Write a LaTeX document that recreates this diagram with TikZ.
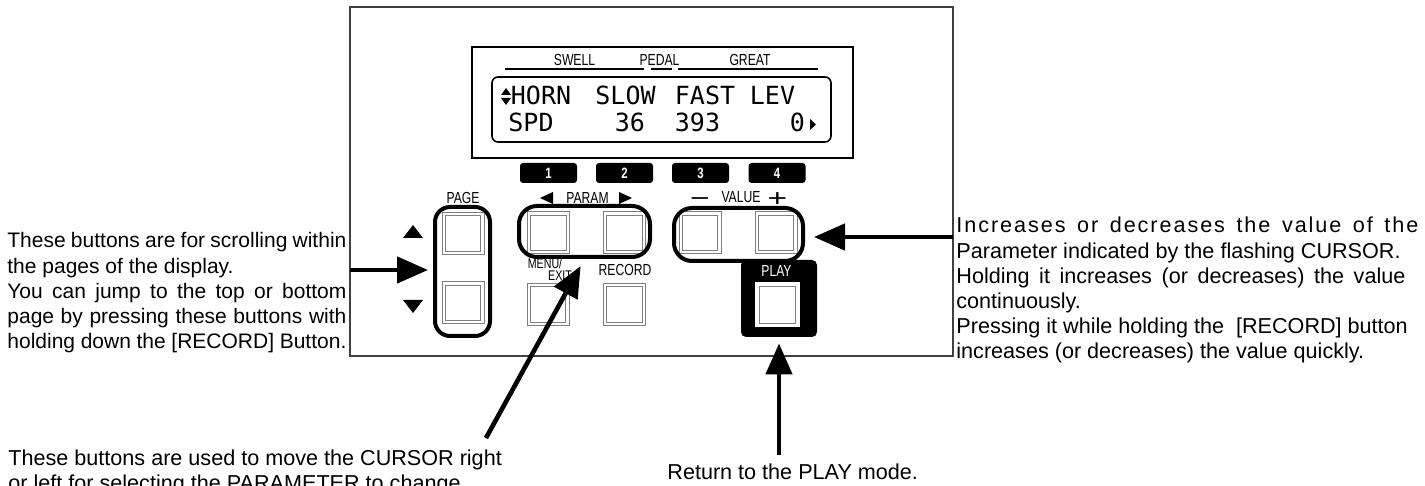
\documentclass[tikz,border=0pt]{standalone}
\usepackage{fontspec}
\setmainfont{Liberation Sans}
\newfontfamily\panelfont[FakeStretch=0.76]{Liberation Sans}
\newfontfamily\signfont[FakeStretch=1.4]{Liberation Sans}
\newfontfamily\lcdfont{DejaVu Sans Mono}
\usetikzlibrary{arrows.meta}
\definecolor{framegray}{HTML}{404040}
\definecolor{btngray}{HTML}{7F7F7F}

\begin{document}
\begin{tikzpicture}[x=0.5pt, y=-0.5pt,
  panelbox/.style = {draw=framegray, line width=1pt, inner sep=0pt},
  bezel/.style    = {draw, line width=0.6pt, inner sep=0pt},
  lcdbox/.style   = {draw, line width=0.8pt, rounded corners=3pt, inner sep=0pt},
  lcdtxt/.style   = {font=\lcdfont\fontsize{12.5}{12.5}\selectfont, anchor=base west, inner sep=0pt},
  lbl/.style      = {font=\panelfont\fontsize{8}{8}\selectfont, inner sep=0pt},
  small/.style    = {font=\panelfont\fontsize{7}{7}\selectfont, inner sep=0pt},
  sign/.style     = {font=\signfont\fontsize{12}{12}\selectfont, anchor=base, inner sep=0pt},
  bar/.style      = {line width=1.25pt},
  numkey/.style   = {fill=black, rounded corners=1.5pt, minimum width=28.5pt, minimum height=10pt, inner sep=0pt, text=white, font=\panelfont\bfseries\fontsize{7.5}{7.5}\selectfont},
  btn/.style      = {draw=btngray, line width=0.5pt, minimum size=21pt, inner sep=0pt,
                     path picture={\draw[line width=0.5pt] ([shift={(1.6pt,-1.6pt)}]path picture bounding box.north west) rectangle ([shift={(-1.6pt,1.6pt)}]path picture bounding box.south east);}},
  pill/.style     = {draw, line width=2pt, inner sep=0pt},
  playbox/.style  = {fill=black, rounded corners=2.5pt, minimum width=38pt, minimum height=38.5pt, inner sep=0pt},
  playbtn/.style  = {fill=white, minimum size=22.5pt, inner sep=0pt,
                     path picture={\draw[btngray, line width=0.45pt] ([shift={(2.2pt,-2.2pt)}]path picture bounding box.north west) rectangle ([shift={(-2.2pt,2.2pt)}]path picture bounding box.south east);}},
  txt/.style      = {font=\fontsize{10.8}{12.5}\selectfont, anchor=base west, inner sep=0pt},
  ltxt/.style     = {font=\fontsize{10.5}{12.5}\selectfont, anchor=base west, inner sep=0pt},
  arr/.style      = {-{Triangle[length=15.5pt,width=13pt]}, line width=2.3pt},
]
\useasboundingbox (0,0) rectangle (1425,486);

% panel and display
\node[panelbox, minimum width=301.75pt, minimum height=174.5pt] (panel) at (651.25,181.5) {};
\node[bezel, minimum width=190.5pt, minimum height=55.5pt] (bezel) at (662.5,102.5) {};
\node[lcdbox, minimum width=169.5pt, minimum height=32.5pt] (lcd) at (661.5,109.5) {};
\node[lbl] (swell) at (574.5,59.5) {SWELL};
\node[lbl] (pedal) at (659.5,59.5) {PEDAL};
\node[lbl] (great) at (750,59.5) {GREAT};
\draw[bar] (505,69) -- (644,69);
\draw[bar] (651,69) -- (672,69);
\draw[bar] (678,69) -- (818,69);

% display text
\fill (501,95) -- (511,95) -- (506,88) -- cycle;
\fill (501,98) -- (511,98) -- (506,105) -- cycle;
\node[lcdtxt] (horn) at (510.5,105) {HORN};
\node[lcdtxt] (slow) at (595,105) {SLOW};
\node[lcdtxt] (fast) at (674.5,105) {FAST};
\node[lcdtxt] (lev) at (749.5,105) {LEV};
\node[lcdtxt] (spd) at (508,132) {SPD};
\node[lcdtxt] (slowval) at (614.5,132) {36};
\node[lcdtxt] (fastval) at (674.5,132) {393};
\node[lcdtxt] (levval) at (789.5,132) {0};
\fill (810,119) -- (810,130) -- (816,124.5) -- cycle;

% number keys
\foreach \k/\x in {1/548.5, 2/624.5, 3/700.5, 4/777}
  \node[numkey] (key\k) at (\x,173) {\k};

% group labels
\node[lbl] (page) at (463,197.5) {PAGE};
\node[lbl] (param) at (587.5,197.5) {PARAM};
\fill (540,198) -- (553,192) -- (553,204) -- cycle;
\fill (619,192) -- (619,204) -- (632,198) -- cycle;
\node[lbl] (value) at (741,197.5) {VALUE};
\node[sign] (minus) at (700,206.5) {−};
\node[sign] (plus) at (777.5,206.5) {+};
\fill (403,238) -- (423,238) -- (413,225) -- cycle;
\fill (403,300) -- (423,300) -- (413,313) -- cycle;

% buttons
\node[btn] (pgup) at (463,233.5) {};
\node[btn] (pgdn) at (463,303) {};
\node[btn] (parl) at (548.5,233) {};
\node[btn] (parr) at (624.5,233) {};
\node[btn] (vall) at (700,233) {};
\node[btn] (valr) at (776,233) {};
\node[btn] (menu) at (548,304.5) {};
\node[btn] (rec) at (624.5,304.5) {};
\node[small] (menulbl) at (545,263) {MENU/};
\node[small] (exitlbl) at (560,276) {EXIT};
\node[lbl] (reclbl) at (625,270) {RECORD};

% pills round the button groups
\node[pill, minimum width=27.5pt, minimum height=64.5pt, rounded corners=7.5pt] (pagepill) at (462.5,271.5) {};
\node[pill, minimum width=65.5pt, minimum height=25.5pt, rounded corners=9pt] (parampill) at (584.5,231.5) {};
\node[pill, minimum width=64.5pt, minimum height=26.5pt, rounded corners=9pt] (valuepill) at (738.5,234.5) {};

% play
\node[playbox] (playbox) at (779,298.5) {};
\node[lbl, text=white] (playlbl) at (776.5,271) {PLAY};
\node[playbtn] (playbtn) at (777.5,305) {};

% explanations
\node[ltxt] (pg1) at (7,248) {\makebox[169.5pt][s]{These buttons are for scrolling within}};
\node[ltxt] (pg2) at (7,273.3) {the pages of the display.};
\node[ltxt] (pg3) at (7,298.5) {\makebox[169.5pt][s]{You can jump to the top or bottom}};
\node[ltxt] (pg4) at (7,323.8) {\makebox[169.5pt][s]{page by pressing these buttons with}};
\node[ltxt] (pg5) at (7,349) {\makebox[169.5pt][s]{holding down the [RECORD] Button.}};
\node[txt] (val1) at (956,233) {\makebox[231pt][s]{\addfontfeatures{LetterSpace=9}Increases or decreases the value of the}};
\node[txt] (val2) at (956,258.3) {Parameter indicated by the flashing CURSOR.};
\node[txt] (val3) at (956,283.3) {\makebox[224.5pt][s]{Holding it increases (or decreases) the value}};
\node[txt] (val4) at (956,308.3) {continuously.};
\node[txt] (val5) at (956,333.3) {Pressing it while holding the\ \ [RECORD] button};
\node[txt] (val6) at (956,358.3) {increases (or decreases) the value quickly.};
\node[txt] (par1) at (8,465) {These buttons are used to move the CURSOR right};
\node[txt] (par2) at (8,490) {or left for selecting the PARAMETER to change.};
\node[txt] (ret) at (667,479) {Return to the PLAY mode.};

% arrows
\coordinate (pagetail) at (350,270);
\coordinate (valtail) at (953,237);
\coordinate (paramtail) at (486,438);
\coordinate (playtail) at (779,455);
\draw[arr, shorten >=2.5pt] (pagetail) -- (pagetail -| pagepill.west);
\draw[arr, shorten >=4.5pt] (valtail) -- (valtail -| valuepill.east);
\draw[arr, shorten >=4pt] (paramtail) -- (parampill.south);
\draw[arr, shorten >=3pt] (playtail) -- (playtail |- playbox.south);
\end{tikzpicture}
\end{document}
